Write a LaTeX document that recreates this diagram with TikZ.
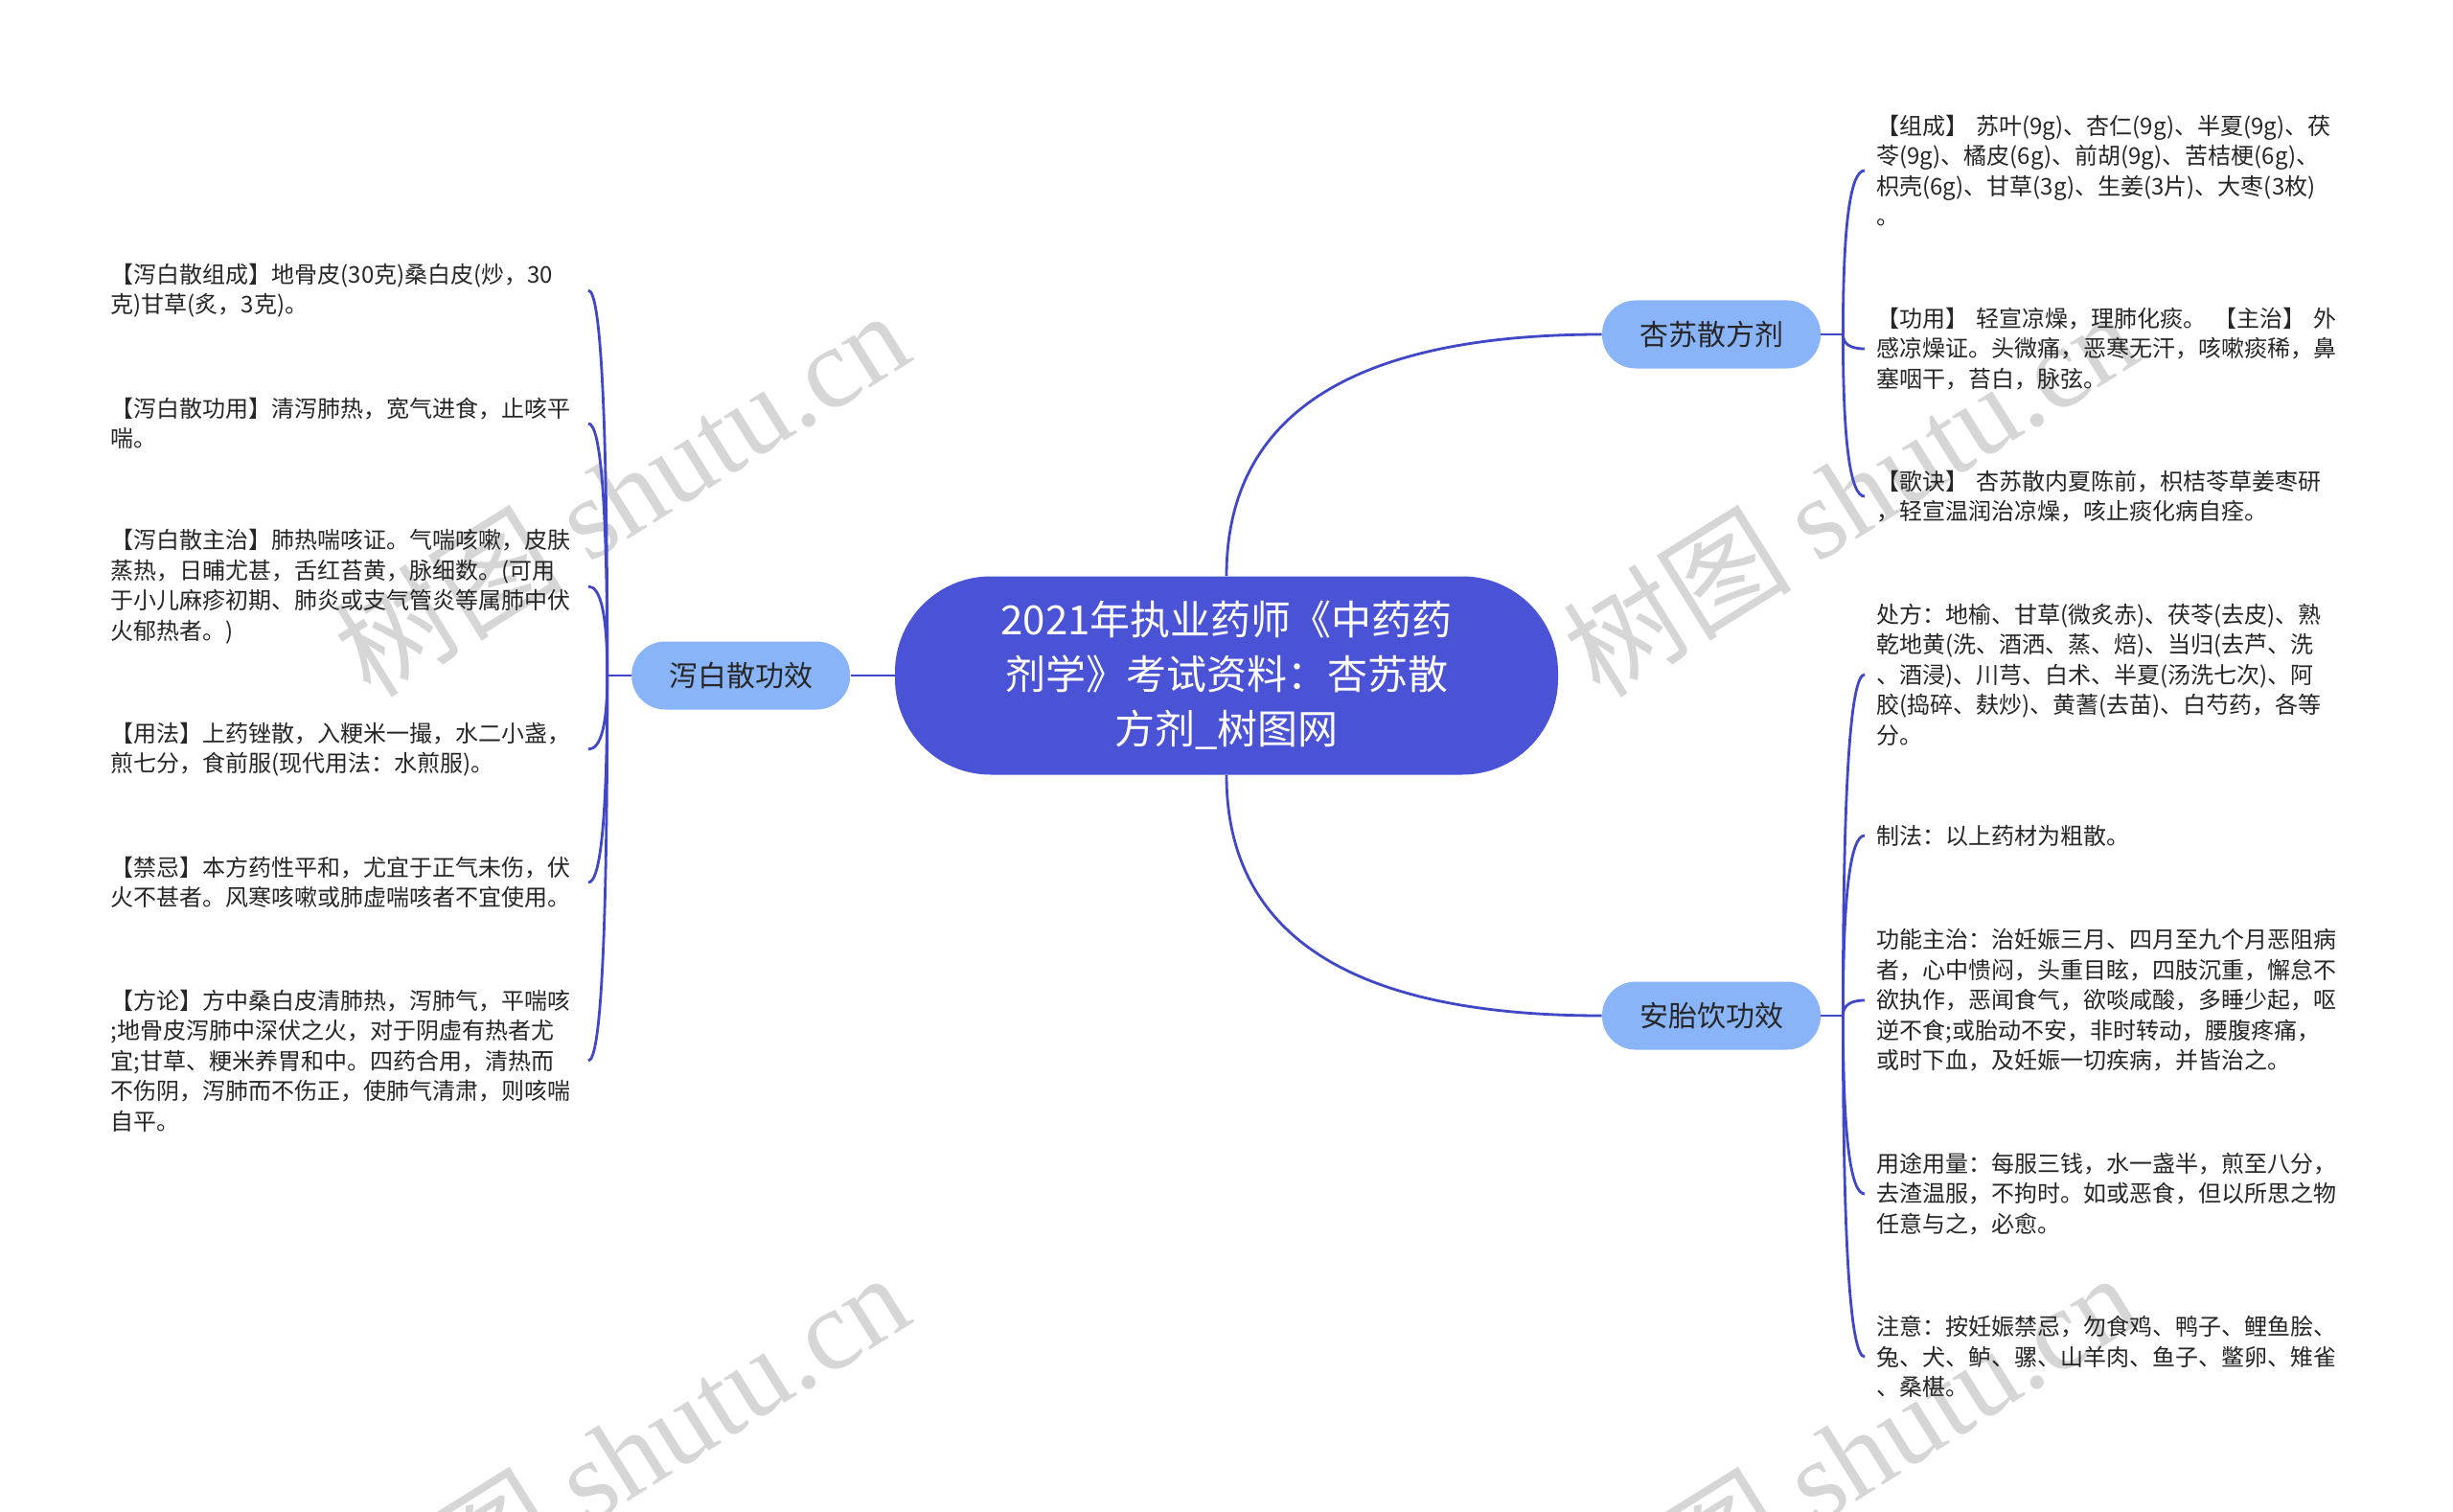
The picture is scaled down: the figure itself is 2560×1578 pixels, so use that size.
\documentclass[tikz,border=0pt]{standalone}
\usepackage{fontspec}
\setmainfont{Noto Sans CJK SC}
\newfontfamily\shuiyinfont{Liberation Serif}
\usepackage{tikz}
\usetikzlibrary{positioning, calc}
\definecolor{zhutilan}{HTML}{4A52D6}
\definecolor{qianlan}{HTML}{8AB4F8}
\definecolor{xianlan}{HTML}{4048C8}
\definecolor{zihei}{HTML}{262626}
\definecolor{shuiyinhui}{HTML}{D6D6D6}
\tikzstyle{zhuti} = [fill=zhutilan, text=white, rounded corners=50pt, minimum width=346pt, minimum height=103.5pt, align=center, font=\fontsize{21pt}{28.5pt}\selectfont]
\tikzstyle{fenzhi} = [fill=qianlan, text=zihei, rounded corners=17.5pt, minimum width=114pt, minimum height=35.5pt, font=\fontsize{15pt}{18pt}\selectfont]
\tikzstyle{neirong} = [text=zihei, text width=243pt, align=left, inner xsep=6pt, font=\fontsize{12pt}{15.75pt}\selectfont]
\tikzstyle{lianxian} = [draw=xianlan, line width=1.4pt]
\tikzstyle{quxian} = [to path={.. controls ($(\tikztostart)!.667!(\tikztostart|-\tikztotarget)$) and ($(\tikztotarget)!.667!(\tikztostart|-\tikztotarget)$) .. (\tikztotarget) \tikztonodes}]
\tikzstyle{shuiyin} = [text=shuiyinhui, rotate=32, font=\fontsize{60pt}{60pt}\selectfont]

\begin{document}
\begin{tikzpicture}[x=0.5pt, y=-0.5pt]
	\useasboundingbox (0,0) rectangle (2560,1578);
	\fill[white] (0,0) rectangle (2560,1578);
	\node[shuiyin] (sy1) at (648,514) {树图 {\shuiyinfont shutu.cn}};
	\node[shuiyin] (sy2) at (1930,514) {树图 {\shuiyinfont shutu.cn}};
	\node[shuiyin] (sy3) at (648,1518) {树图 {\shuiyinfont shutu.cn}};
	\node[shuiyin] (sy4) at (1930,1518) {树图 {\shuiyinfont shutu.cn}};

	\node[zhuti] (zhuti) at (1280,705) {2021年执业药师《中药药\\剂学》考试资料：杏苏散\\方剂\_树图网};
	\node[fenzhi, left=23pt of zhuti] (xbs) {泻白散功效};
	\node[fenzhi] (xsf) at (1786,349) {杏苏散方剂};
	\node[fenzhi] (atyx) at (1786,1060) {安胎饮功效};

	\node[neirong, anchor=east] (l1) at (614,303) {【泻白散组成】地骨皮(30克)桑白皮(炒，30\\克)甘草(炙，3克)。};
	\node[neirong, anchor=east] (l2) at (614,442) {【泻白散功用】清泻肺热，宽气进食，止咳平\\喘。};
	\node[neirong, anchor=east] (l3) at (614,612) {【泻白散主治】肺热喘咳证。气喘咳嗽，皮肤\\蒸热，日晡尤甚，舌红苔黄，脉细数。(可用\\于小儿麻疹初期、肺炎或支气管炎等属肺中伏\\火郁热者。)};
	\node[neirong, anchor=east] (l4) at (614,782) {【用法】上药锉散，入粳米一撮，水二小盏，\\煎七分，食前服(现代用法：水煎服)。};
	\node[neirong, anchor=east] (l5) at (614,921) {【禁忌】本方药性平和，尤宜于正气未伤，伏\\火不甚者。风寒咳嗽或肺虚喘咳者不宜使用。};
	\node[neirong, anchor=east] (l6) at (614,1107) {【方论】方中桑白皮清肺热，泻肺气，平喘咳\\;地骨皮泻肺中深伏之火，对于阴虚有热者尤\\宜;甘草、粳米养胃和中。四药合用，清热而\\不伤阴，泻肺而不伤正，使肺气清肃，则咳喘\\自平。};

	\node[neirong, anchor=west] (r1) at (1946,178) {【组成】~苏叶(9g)、杏仁(9g)、半夏(9g)、茯\\苓(9g)、橘皮(6g)、前胡(9g)、苦桔梗(6g)、\\枳壳(6g)、甘草(3g)、生姜(3片)、大枣(3枚)\\。};
	\node[neirong, anchor=west] (r2) at (1946,364) {【功用】~轻宣凉燥，理肺化痰。~【主治】~外\\感凉燥证。头微痛，恶寒无汗，咳嗽痰稀，鼻\\塞咽干，苔白，脉弦。};
	\node[neirong, anchor=west] (r3) at (1946,518) {【歌诀】~杏苏散内夏陈前，枳桔苓草姜枣研\\，轻宣温润治凉燥，咳止痰化病自痊。};

	\node[neirong, anchor=west] (r4) at (1946,704) {处方：地榆、甘草(微炙赤)、茯苓(去皮)、熟\\乾地黄(洗、酒洒、蒸、焙)、当归(去芦、洗\\、酒浸)、川芎、白术、半夏(汤洗七次)、阿\\胶(捣碎、麸炒)、黄蓍(去苗)、白芍药，各等\\分。};
	\node[neirong, anchor=west] (r5) at (1946,872) {制法：以上药材为粗散。};
	\node[neirong, anchor=west] (r6) at (1946,1044) {功能主治：治妊娠三月、四月至九个月恶阻病\\者，心中愦闷，头重目眩，四肢沉重，懈怠不\\欲执作，恶闻食气，欲啖咸酸，多睡少起，呕\\逆不食;或胎动不安，非时转动，腰腹疼痛，\\或时下血，及妊娠一切疾病，并皆治之。};
	\node[neirong, anchor=west] (r7) at (1946,1246) {用途用量：每服三钱，水一盏半，煎至八分，\\去渣温服，不拘时。如或恶食，但以所思之物\\任意与之，必愈。};
	\node[neirong, anchor=west] (r8) at (1946,1416) {注意：按妊娠禁忌，勿食鸡、鸭子、鲤鱼脍、\\兔、犬、鲈、骡、山羊肉、鱼子、鳖卵、雉雀\\、桑椹。};

	\coordinate[left=12.5pt of xbs.west] (lzhou);
	\coordinate[right=11.5pt of xsf.east] (rzhou1);
	\coordinate[right=11.5pt of atyx.east] (rzhou2);

	\draw[lianxian] (zhuti.west) -- (xbs.east);
	\draw[lianxian] (zhuti.north) to[quxian] (xsf.west);
	\draw[lianxian] (zhuti.south) to[quxian] (atyx.west);
	\draw[lianxian] (xbs.west) -- (lzhou);
	\draw[lianxian] (xsf.east) -- (rzhou1);
	\draw[lianxian] (atyx.east) -- (rzhou2);

	\draw[lianxian] (lzhou) to[quxian] (l1.east);
	\draw[lianxian] (lzhou) to[quxian] (l2.east);
	\draw[lianxian] (lzhou) to[quxian] (l3.east);
	\draw[lianxian] (lzhou) to[quxian] (l4.east);
	\draw[lianxian] (lzhou) to[quxian] (l5.east);
	\draw[lianxian] (lzhou) to[quxian] (l6.east);
	\draw[lianxian] (rzhou1) to[quxian] (r1.west);
	\draw[lianxian] (rzhou1) to[quxian] (r2.west);
	\draw[lianxian] (rzhou1) to[quxian] (r3.west);
	\draw[lianxian] (rzhou2) to[quxian] (r4.west);
	\draw[lianxian] (rzhou2) to[quxian] (r5.west);
	\draw[lianxian] (rzhou2) to[quxian] (r6.west);
	\draw[lianxian] (rzhou2) to[quxian] (r7.west);
	\draw[lianxian] (rzhou2) to[quxian] (r8.west);
\end{tikzpicture}
\end{document}
